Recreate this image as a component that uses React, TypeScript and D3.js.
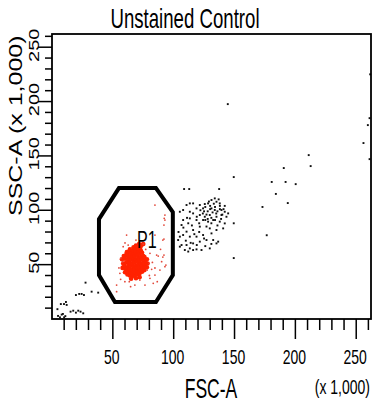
import React from "react";
import * as d3 from "d3";

const title = "Unstained Control";
const xLabel = "FSC-A";
const yLabel = "SSC-A (x 1,000)";
const xUnit = "(x 1,000)";
const gateName = "P1";
const majorTicks = [50, 100, 150, 200, 250];
const minorTicks = [10, 20, 30, 40, 60, 70, 80, 90, 110, 120, 130, 140, 160, 170, 180, 190, 210, 220, 230, 240, 260];

// gate P1 outline (x 1,000)
const gateX = [55, 85.4, 99.3, 99.3, 85.4, 51.7, 38.6, 38.6];
const gateY = [120.4, 120.4, 98.3, 40.4, 15.6, 15.6, 40.4, 91.9];

// dense red population inside P1
const redCore = [
  [58, 47], [58.5, 51], [57.5, 55], [59, 58], [60, 43], [60.5, 46], [59.5, 49], [61, 52], [60, 55.5], [61, 59], [61.5, 61.5],
  [62, 41], [62.5, 44], [62, 47.5], [63, 50], [62.5, 53], [63, 56], [62, 59], [63.5, 62],
  [64, 40], [64.5, 43], [64, 46], [65, 49], [64, 52], [65, 55], [64.5, 58], [65, 61], [64, 64],
  [66, 39.5], [66.5, 42], [66, 45], [67, 48], [66, 51], [67, 54], [66, 57], [67, 60], [66.5, 63], [67, 66],
  [68, 40], [68.5, 43], [68, 46], [69, 49], [68, 52], [69, 55], [68, 58], [69, 61], [68.5, 64], [69, 67.5],
  [70, 41], [70.5, 44], [70, 47], [71, 50], [70, 53], [71, 56], [70, 59], [71, 62], [70.5, 65], [71.5, 69],
  [72, 42], [72.5, 45], [72, 48], [73, 51], [72, 54], [73, 57], [72, 60], [73, 63], [72.5, 66], [73.5, 68],
  [74, 43.5], [74.5, 46], [74, 49], [75, 52], [74, 55], [75, 58], [74, 61], [75, 69],
  [76, 45], [76.5, 48], [76, 51], [77, 54], [76, 57],
  [78, 47.5], [78.5, 51], [78, 55], [65, 37], [69, 37.5], [72, 38.5],
];

const redScatter = [
  [61.3, 77.2], [84.6, 77.2], [89.2, 64.1], [92, 58.8], [87.3, 57.9], [90.1, 52.7], [92.8, 48.1], [88.7, 45],
  [84.6, 40.4], [80.5, 37.4], [86.5, 34.3], [83.2, 32.8], [76.4, 31.2], [72.2, 35.8], [68.1, 31.2], [63.5, 34.3],
  [59.9, 34.3], [64.6, 29.7], [56.4, 36.5], [55.8, 42], [58, 52.7], [56.4, 55.8], [58.5, 66.5], [62.6, 68],
  [69, 72.6], [75, 68.9], [80.5, 60.4], [79.9, 51.2], [78.2, 45], [81.9, 45.7], [53.1, 31.2], [53.1, 25.1],
  [84.6, 104.8], [92.2, 92.6], [91.1, 72.6], [86, 58.8], [92.8, 91], [92, 73.5], [91.1, 57], [84.6, 46.9],
  [93.6, 49.6], [92, 86.4], [92.8, 95.6], [80, 40], [82.5, 52], [77, 64], [60, 70], [55, 47],
];

const blackCluster = [
  [108.6, 119.5], [112.8, 119.5], [137.4, 119.5], [133.8, 110.9], [131.1, 109.4], [135.2, 107.8], [137.9, 106.3],
  [128.3, 106.3], [125.6, 105.7], [121.5, 104.8], [116, 106.3], [113.3, 106.3], [110.6, 104.8], [118.8, 101.7],
  [124.2, 101.7], [131.1, 101.7], [133.8, 100.2], [139.3, 100.2], [142, 98.6], [144.8, 97.1], [113.3, 98.6],
  [107.8, 100.2], [105.1, 98.6], [116, 97.1], [121.5, 95.6], [125.6, 94], [129.7, 95.6], [135.2, 94],
  [139.3, 95.6], [143.4, 94], [124.2, 91], [128.3, 89.5], [132.5, 91], [137.9, 89.5], [142, 87.9],
  [113.3, 92.5], [118.8, 91], [107.8, 91], [106.5, 86.4], [129.7, 83.3], [121.5, 84.9], [116, 81.8],
  [110.6, 80.3], [135.2, 81.8], [140.7, 83.3], [131.1, 78.7], [124.2, 77.2], [118.8, 75.7], [113.3, 75.7],
  [107.8, 77.2], [105.1, 75.7], [127, 72.6], [132.5, 72.6], [136.6, 71.1], [121.5, 71.1], [116, 69.5],
  [110.6, 68], [106.5, 68], [113.3, 64.9], [118.8, 64], [122.9, 63.4], [129.7, 64.9], [135.2, 69.5],
  [103.7, 72.6], [105.1, 66.5], [109.2, 63.4], [116, 63.4],
  [126, 103], [128, 99], [130, 104], [132, 98], [134, 103], [136, 99], [138, 104], [127, 96], [131, 93],
  [135, 97], [139, 92], [141, 101], [129, 108], [133, 106], [126, 91], [124, 97], [137, 110], [122, 100],
  [131, 88], [136, 86], [119, 94], [121, 88], [127, 85], [140, 96], [142, 104], [134, 91], [128, 92],
  [125, 99], [138, 101], [130, 101], [117, 78], [121, 80], [125, 74], [110, 72], [114, 70], [119, 68],
  [108, 84], [112, 88], [115, 86], [111, 93], [104, 80], [126, 67], [131, 69], [112, 62],
];

const blackScatter = [
  [144.5, 197.6], [261.5, 225], [261, 184.7], [259.6, 178.3], [256, 161.8], [261, 147],
  [211, 150.7], [212.6, 140.6], [190.5, 138.8], [180.6, 126], [192, 126], [200.3, 124], [184, 115],
  [193.8, 106.6], [173, 103], [176.5, 77], [149.4, 130.5], [149.4, 88], [149.4, 56],
  [7.3, 13.7], [9.9, 13.7], [11.5, 15.6], [12.1, 12.9], [19.7, 22], [22.4, 23], [24.4, 23], [26.3, 22],
  [32.6, 25.1], [38, 24.2], [27.6, 33.4], [15.3, 6.7], [17.5, 7.6], [19.7, 5.8], [21.6, 7.6], [23.5, 6.7],
  [25.7, 5.2], [9, 4.6], [5, 2.8], [6.6, 1.5], [11, 2.6], [4.5, 9], [8, 4], [10, 1.5],
];

const FONT = "'Liberation Sans', Arial, sans-serif";
const SQ = 0.7;

const SqText = ({ x, y, size, anchor = "middle", rotate = false, sx = SQ, children }: any) => (
  <text
    transform={`translate(${x},${y}) scale(${sx},1)${rotate ? " rotate(-90)" : ""}`}
    fontFamily={FONT}
    fontSize={size}
    textAnchor={anchor}
    fill="#000"
  >
    {children}
  </text>
);

export default function App() {
  const width = 373;
  const height = 404;
  const x = d3.scaleLinear().domain([0, 262.144]).range([52, 371]);
  const y = d3.scaleLinear().domain([0, 262.144]).range([319, 34]);

  const gatePath = d3
    .line<number>()
    .x((d) => x(gateX[d]))
    .y((d) => y(gateY[d]))
    .curve(d3.curveLinearClosed)(d3.range(gateX.length));

  return (
    <svg
      width={width}
      height={height}
      style={{ position: "absolute", left: 0, top: 0, background: "#fff" }}
    >
      <rect x={0} y={0} width={width} height={height} fill="#fff" />
      <SqText x={185} y={28} size={27} sx={0.69}>{title}</SqText>

      {/* dots */}
      {redCore.map((d, i) => (
        <circle key={"rc" + i} cx={x(d[0])} cy={y(d[1])} r={2.3} fill="#ff2200" />
      ))}
      {redScatter.map((d, i) => (
        <circle key={"rs" + i} cx={x(d[0])} cy={y(d[1])} r={0.9} fill="#e2483a" />
      ))}
      {blackCluster.concat(blackScatter).map((d, i) => (
        <rect key={"b" + i} x={x(d[0]) - 1} y={y(d[1]) - 1} width={1.9} height={1.9} fill="#111" />
      ))}

      {/* gate */}
      <path d={gatePath || ""} fill="none" stroke="#000" strokeWidth={4} strokeLinejoin="miter" />
      <SqText x={137} y={248} size={23} anchor="start">{gateName}</SqText>

      {/* frame */}
      <rect x={52} y={34} width={319} height={285} fill="none" stroke="#000" strokeWidth={1.8} />

      {/* x ticks */}
      {minorTicks.map((t) => (
        <line key={"xm" + t} x1={x(t)} x2={x(t)} y1={319} y2={330} stroke="#000" strokeWidth={1.5} />
      ))}
      {majorTicks.map((t) => (
        <g key={"xM" + t}>
          <line x1={x(t)} x2={x(t)} y1={319} y2={339} stroke="#000" strokeWidth={1.5} />
          <SqText x={x(t) - 1} y={364} size={20}>{t}</SqText>
        </g>
      ))}

      {/* y ticks */}
      {minorTicks.map((t) => (
        <line key={"ym" + t} x1={45} x2={52} y1={y(t)} y2={y(t)} stroke="#000" strokeWidth={1.5} />
      ))}
      {majorTicks.map((t) => (
        <g key={"yM" + t}>
          <line x1={38} x2={52} y1={y(t)} y2={y(t)} stroke="#000" strokeWidth={1.5} />
          <SqText x={39} y={y(t) - 2} size={20} rotate>{t}</SqText>
        </g>
      ))}

      <SqText x={211} y={398} size={27} sx={0.65}>{xLabel}</SqText>
      <SqText x={370} y={394} size={20} anchor="end">{xUnit}</SqText>
      <SqText x={22} y={216} size={25} anchor="start" rotate>{yLabel}</SqText>
    </svg>
  );
}
